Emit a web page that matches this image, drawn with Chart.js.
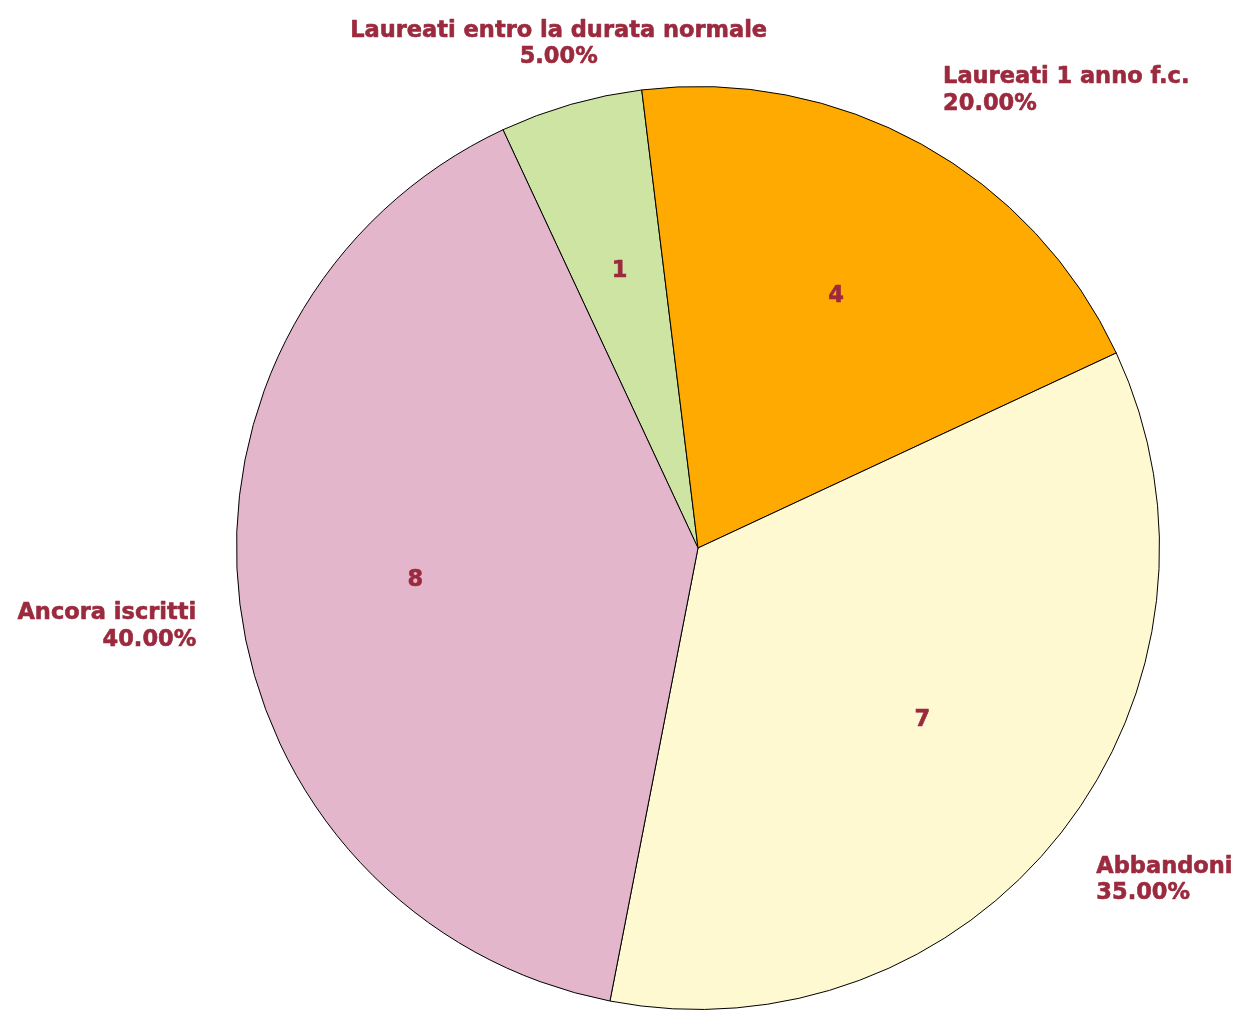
<!DOCTYPE html>
<html><head><meta charset="utf-8">
<script src="https://cdn.jsdelivr.net/npm/chart.js@4/dist/chart.umd.min.js"></script>
<style>html,body{margin:0;padding:0;background:#fff;}#wrap{width:1242px;height:1010px;position:relative;}</style>
</head><body><div id="wrap"><canvas id="c" width="1242" height="1010"></canvas></div>
<script>
const categories = ["Laureati entro la durata normale", "Laureati 1 anno f.c.", "Abbandoni", "Ancora iscritti"];
const values = [1, 4, 7, 8];
const colors = ["#cde4a2", "#ffaa00", "#fef9d0", "#e4b6cc"];
const textColor = "#9b2a3e";
const FONT = "'DejaVu Sans', sans-serif";

function txt(ctx, s, x, y) {
  ctx.strokeText(s, x, y);
  ctx.fillText(s, x, y);
}

const labelPlugin = {
  id: 'labels',
  afterDatasetsDraw(chart) {
    const ctx = chart.ctx;
    const meta = chart.getDatasetMeta(0);
    const total = values.reduce((a, b) => a + b, 0);
    meta.data.forEach((arc, i) => {
      const mid = (arc.startAngle + arc.endAngle) / 2;
      const cx = arc.x, cy = arc.y, r = arc.outerRadius;
      const c = Math.cos(mid), s = Math.sin(mid);
      ctx.save();
      ctx.fillStyle = textColor;
      ctx.strokeStyle = textColor;
      ctx.lineWidth = 0.6;
      ctx.lineJoin = 'round';
      ctx.font = "bold 22.5px " + FONT;
      // inner value
      ctx.textAlign = 'center';
      ctx.textBaseline = 'middle';
      const ir = r * 0.617;
      txt(ctx, String(values[i]), cx + c * ir, cy + s * ir - 3);
      // outer label
      ctx.textBaseline = 'alphabetic';
      const orr = r + 44;
      const x = cx + c * orr;
      const y = cy + s * orr;
      let align = 'center';
      if (c > 0.35) align = 'left'; else if (c < -0.35) align = 'right';
      ctx.textAlign = align;
      const gap = 26.5, cap = 16;
      const pct = (values[i] / total * 100).toFixed(2) + '%';
      let b1, b2;
      if (s < 0) { b2 = y + 30 * (1 + s); b1 = b2 - gap; }
      else { b1 = y + cap - 7 * (1 - s); b2 = b1 + gap; }
      txt(ctx, categories[i], x, b1);
      txt(ctx, pct, x, b2);
      ctx.restore();
    });
  }
};

new Chart(document.getElementById('c'), {
  type: 'pie',
  data: {
    labels: categories,
    datasets: [{
      data: values,
      backgroundColor: colors,
      borderColor: '#000000',
      borderWidth: 1
    }]
  },
  options: {
    responsive: false,
    animation: false,
    rotation: -25,
    layout: { padding: { left: 236, right: 82, top: 86, bottom: 0 } },
    plugins: { legend: { display: false }, tooltip: { enabled: false } }
  },
  plugins: [labelPlugin]
});
</script>
</body></html>
